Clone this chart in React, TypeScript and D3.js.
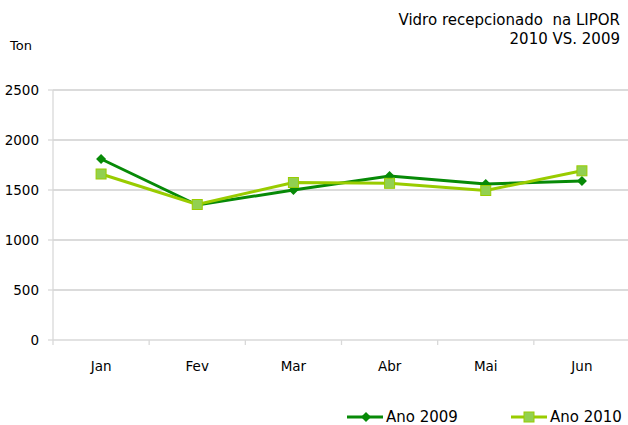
import React from "react";
import * as d3 from "d3";

const months = ["Jan", "Fev", "Mar", "Abr", "Mai", "Jun"];
const values2009 = [1810, 1350, 1500, 1640, 1560, 1590];
const values2010 = [1660, 1355, 1575, 1567, 1495, 1692];
const yTicks = [0, 500, 1000, 1500, 2000, 2500];
const titleLines = ["Vidro recepcionado  na LIPOR", "2010 VS. 2009"];
const seriesNames = ["Ano 2009", "Ano 2010"];

const W = 628;
const H = 425;
const left = 53;
const right = 630;
const top = 90;
const bottom = 340;
const FONT = "'DejaVu Sans', sans-serif";

const dark = "#078a07";
const light = "#99cc00";
const lightFill = "#92d050";

export default function App() {
  const x = d3.scaleBand<string>().domain(months).range([left, right]);
  const y = d3.scaleLinear().domain([0, 2500]).range([bottom, top]);
  const cx = (m: string) => (x(m) as number) + x.bandwidth() / 2;
  const line = d3
    .line<number>()
    .x((_, i) => cx(months[i]))
    .y((d) => y(d));
  const diamond = (px: number, py: number, r: number) =>
    `M${px},${py - r}L${px + r},${py}L${px},${py + r}L${px - r},${py}Z`;

  return (
    <svg
      width={W}
      height={H}
      style={{ position: "absolute", left: 0, top: 0, background: "#fff" }}
      fontFamily={FONT}
    >
      {yTicks.map((t) => (
        <g key={t}>
          {t > 0 && (
            <line x1={left} x2={W} y1={y(t)} y2={y(t)} stroke="#cfcfcf" strokeWidth={1.3} />
          )}
          <line x1={left - 5} x2={left} y1={y(t)} y2={y(t)} stroke="#d9d9d9" strokeWidth={1.3} />
          <text x={39} y={y(t)} dy="0.36em" textAnchor="end" fontSize={13.5} fill="#000">
            {t}
          </text>
        </g>
      ))}
      <line x1={left} x2={left} y1={top} y2={bottom} stroke="#d9d9d9" strokeWidth={1.3} />
      <line x1={left} x2={W} y1={bottom} y2={bottom} stroke="#d9d9d9" strokeWidth={1.3} />
      {months.map((m) => (
        <line
          key={"tk" + m}
          x1={x(m) as number}
          x2={x(m) as number}
          y1={bottom}
          y2={bottom + 5}
          stroke="#d9d9d9"
          strokeWidth={1.3}
        />
      ))}
      {months.map((m) => (
        <text key={m} x={cx(m)} y={371} textAnchor="middle" fontSize={13.5} fill="#000">
          {m}
        </text>
      ))}

      <path d={line(values2009) || ""} fill="none" stroke={dark} strokeWidth={3} />
      {values2009.map((v, i) => (
        <path key={"d" + i} d={diamond(cx(months[i]), y(v), 5)} fill={dark} />
      ))}
      <path d={line(values2010) || ""} fill="none" stroke={light} strokeWidth={3} />
      {values2010.map((v, i) => (
        <rect
          key={"s" + i}
          x={cx(months[i]) - 5}
          y={y(v) - 5}
          width={10}
          height={10}
          fill={lightFill}
          stroke={light}
          strokeWidth={1}
        />
      ))}

      {titleLines.map((t, i) => (
        <text
          key={t}
          x={620}
          y={25 + i * 19}
          textAnchor="end"
          fontSize={15}
          fill="#000"
          style={{ whiteSpace: "pre" }}
        >
          {t}
        </text>
      ))}
      <text x={10} y={50} fontSize={13} fill="#000">
        Ton
      </text>

      <line x1={347} x2={383} y1={417} y2={417} stroke={dark} strokeWidth={3} />
      <path d={diamond(366, 417, 5)} fill={dark} />
      <text x={386} y={417} dy="0.36em" fontSize={15} fill="#000">
        {seriesNames[0]}
      </text>
      <line x1={511} x2={547} y1={417} y2={417} stroke={light} strokeWidth={3} />
      <rect x={524} y={412} width={10} height={10} fill={lightFill} stroke={light} strokeWidth={1} />
      <text x={550} y={417} dy="0.36em" fontSize={15} fill="#000">
        {seriesNames[1]}
      </text>
    </svg>
  );
}
